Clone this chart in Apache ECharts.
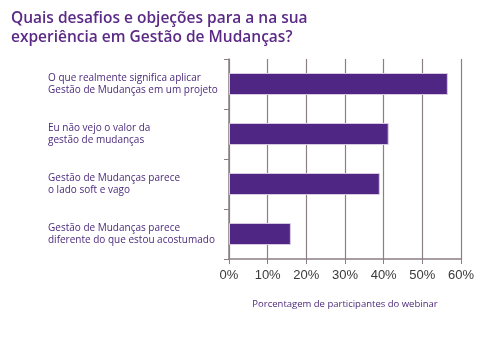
<!DOCTYPE html>
<html>
<head>
<meta charset="utf-8">
<script src="https://cdn.jsdelivr.net/npm/echarts@6/dist/echarts.min.js"></script>
<style>
html,body{margin:0;padding:0;background:#fff;}
#c{width:484px;height:338px;}
</style>
</head>
<body>
<div id="c"></div>
<script>
var categories = [
  "O que realmente significa aplicar\nGestão de Mudanças em um projeto",
  "Eu não vejo o valor da\ngestão de mudanças",
  "Gestão de Mudanças parece\no lado soft e vago",
  "Gestão de Mudanças parece\ndiferente do que estou acostumado"
];
var values = [56.6, 41.3, 39.0, 16.0];
var tickValues = [0, 10, 20, 30, 40, 50, 60];
var titleText = "Quais desafios e objeções para a na sua\nexperiência em Gestão de Mudanças?";
var axisName = "Porcentagem de participantes do webinar";

var chart = echarts.init(document.getElementById('c'), null, {renderer: 'canvas'});
chart.setOption({
  animation: false,
  backgroundColor: '#ffffff',
  title: {
    text: titleText,
    left: 6,
    top: 4,
    textStyle: {
      fontFamily: 'Open Sans',
      fontSize: 15.5,
      fontWeight: 600,
      color: '#5b2a86',
      lineHeight: 19
    }
  },
  grid: {left: 229, right: 23, top: 59, bottom: 79, containLabel: false},
  xAxis: {
    type: 'value',
    min: tickValues[0],
    max: tickValues[tickValues.length - 1],
    interval: 10,
    name: axisName,
    nameLocation: 'middle',
    nameGap: 40,
    nameTextStyle: {fontFamily: 'Open Sans', fontSize: 9.5, color: '#4b2a7b'},
    axisLine: {show: true, lineStyle: {color: '#8a7f85', width: 1.5}},
    axisTick: {show: true, length: 5, lineStyle: {color: '#8a7f85'}},
    axisLabel: {
      margin: 10,
      fontFamily: 'Liberation Sans',
      fontSize: 13,
      color: '#3a3a3a',
      formatter: function (v) { return v + '%'; }
    },
    splitLine: {show: true, lineStyle: {color: '#8a7f85', width: 1.2}}
  },
  yAxis: {
    type: 'category',
    inverse: true,
    data: categories,
    axisLine: {show: true, lineStyle: {color: '#8a7f85', width: 1.5}},
    axisTick: {show: true, length: 5, lineStyle: {color: '#8a7f85'}},
    axisLabel: {
      align: 'left',
      margin: 181,
      fontFamily: 'Open Sans',
      fontSize: 10,
      lineHeight: 12.5,
      color: '#4b2a7b'
    }
  },
  series: [{
    type: 'bar',
    data: values,
    barWidth: 22,
    itemStyle: {color: '#4f2683', borderColor: '#d9c9e3', borderWidth: 1}
  }]
});
</script>
</body>
</html>
